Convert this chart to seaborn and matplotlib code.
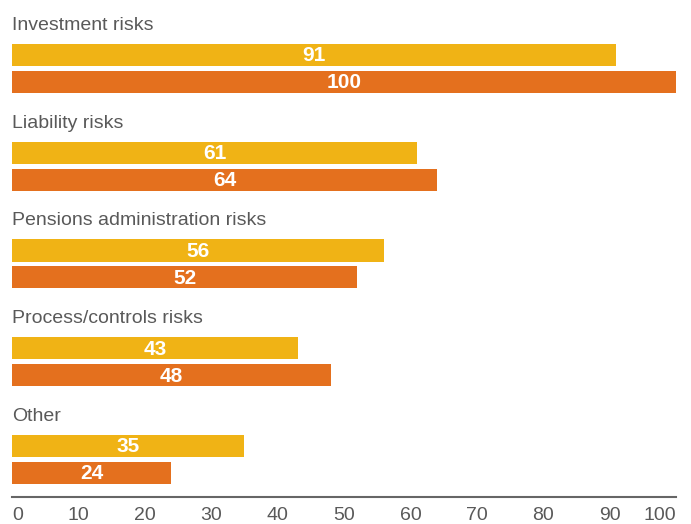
import pandas as pd
import matplotlib.pyplot as plt
import seaborn as sns

categories = ["Investment risks", "Liability risks", "Pensions administration risks",
              "Process/controls risks", "Other"]
series_names = ["first", "second"]
values_first = [91, 61, 56, 43, 35]
values_second = [100, 64, 52, 48, 24]
x_ticks = [0, 10, 20, 30, 40, 50, 60, 70, 80, 90, 100]

COLOR_FIRST = "#F0B315"
COLOR_SECOND = "#E4701E"
TEXT_COLOR = "#595959"

sns.set_style("white")
plt.rcParams["font.family"] = ["Liberation Sans", "DejaVu Sans"]

df = pd.DataFrame({
    "category": categories * 2,
    "series": [series_names[0]] * len(categories) + [series_names[1]] * len(categories),
    "value": values_first + values_second,
})

fig = plt.figure(figsize=(6.91, 5.24), dpi=100)
ax = fig.add_axes([12 / 691, 1 - 497 / 524, 664 / 691, 497 / 524])

sns.barplot(data=df, y="category", x="value", hue="series", order=categories,
            hue_order=series_names, palette=[COLOR_FIRST, COLOR_SECOND],
            saturation=1, linewidth=0, orient="h", width=0.55, gap=0.18,
            legend=False, ax=ax)

ax.set_xlim(0, 100)
ax.set_ylim(4.384, -0.70)

# value labels centred in each bar
for container in ax.containers:
    for bar in container:
        w = bar.get_width()
        ax.text(w / 2, bar.get_y() + bar.get_height() / 2 + 0.01, f"{w:.0f}",
                ha="center", va="center", color="white", fontsize=15, fontweight="bold")

# category labels above each pair of bars
for i, cat in enumerate(categories):
    ax.text(0, i - 0.44, cat, ha="left", va="center", color=TEXT_COLOR, fontsize=14)

ax.set_yticks([])
ax.set_ylabel("")
ax.set_xlabel("")
ax.set_xticks(x_ticks)
ax.set_xticklabels([str(t) for t in x_ticks], color=TEXT_COLOR, fontsize=14)
labels = ax.get_xticklabels()
labels[0].set_ha("left")
labels[-1].set_ha("right")
ax.tick_params(axis="x", length=0, pad=7)

for side in ("top", "left", "right"):
    ax.spines[side].set_visible(False)
ax.spines["bottom"].set_color("#666666")
ax.spines["bottom"].set_linewidth(1.5)

fig.savefig("out.png", dpi=100)
